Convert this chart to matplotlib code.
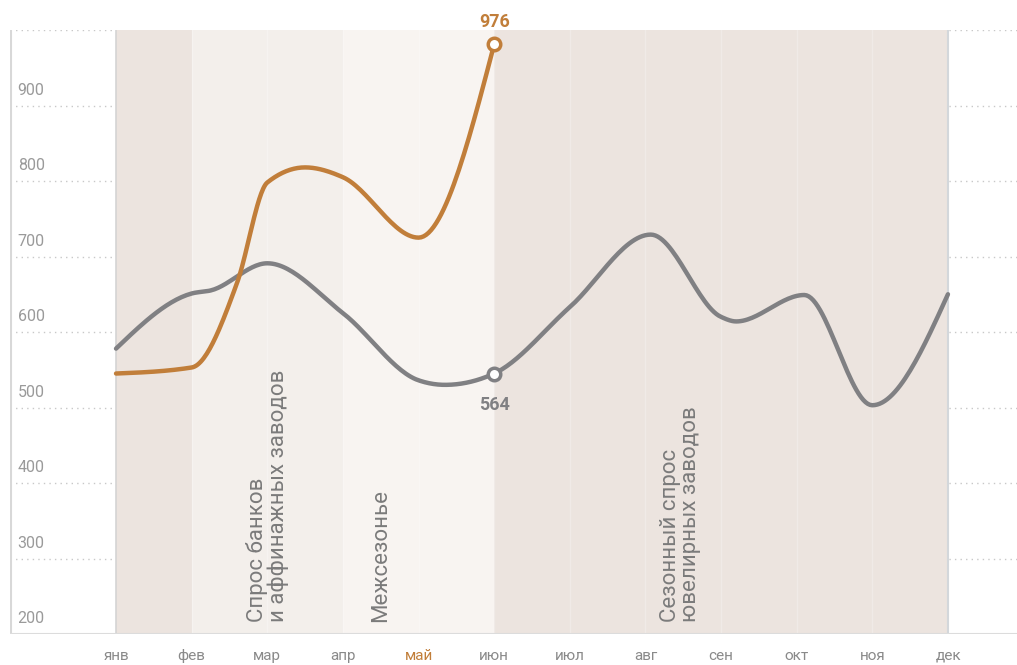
import numpy as np
import matplotlib
matplotlib.use('Agg')
import matplotlib.pyplot as plt

plt.rcParams['font.family'] = ['Roboto', 'DejaVu Sans']

# данные (позиция в месяцах от янв = 0)
months = ['янв', 'фев', 'мар', 'апр', 'май', 'июн', 'июл', 'авг', 'сен', 'окт', 'ноя', 'дек']
gray_x = [0, 1, 1.25, 2, 3, 4, 4.35, 5, 6, 7.07, 8, 8.2, 9.1, 10, 11]
gray_y = [578, 651, 655, 691, 625, 536, 530, 545, 633, 729, 620, 614, 649, 503, 650]
orange_x = [0, 1, 1.6, 2, 2.5, 3, 4, 5]
orange_y = [545, 553, 665, 798, 818, 805, 725, 981]
point_labels = ['976', '564']
y_ticks = [200, 300, 400, 500, 600, 700, 800, 900]

orange = '#c17e3a'
gray = '#808083'
txt = '#8a8a8a'


def monotone(x, y, n=30):
    # монотонная кубическая интерполяция (как monotoneX) для отрисовки
    x = np.asarray(x, float)
    y = np.asarray(y, float)
    h = np.diff(x)
    s = np.diff(y) / h
    t = np.zeros(len(x))
    for i in range(1, len(x) - 1):
        p = (s[i - 1] * h[i] + s[i] * h[i - 1]) / (h[i - 1] + h[i])
        t[i] = (np.sign(s[i - 1]) + np.sign(s[i])) * min(abs(s[i - 1]), abs(s[i]), 0.5 * abs(p))
    t[0] = (3 * s[0] - t[1]) / 2 if len(x) > 2 else s[0]
    t[-1] = (3 * s[-1] - t[-2]) / 2 if len(x) > 2 else s[-1]
    xs, ys = [], []
    for i in range(len(x) - 1):
        u = np.linspace(0, 1, n, endpoint=False)
        h00 = (1 + 2 * u) * (1 - u) ** 2
        h10 = u * (1 - u) ** 2
        h01 = u ** 2 * (3 - 2 * u)
        h11 = u ** 2 * (u - 1)
        xs.append(x[i] + u * h[i])
        ys.append(h00 * y[i] + h10 * h[i] * t[i] + h01 * y[i + 1] + h11 * h[i] * t[i + 1])
    xs.append([x[-1]])
    ys.append([y[-1]])
    return np.concatenate(xs), np.concatenate(ys)


fig = plt.figure(figsize=(10.17, 6.65), dpi=100)
ax = fig.add_axes([10 / 1017, 31 / 665, 1007 / 1017, 604 / 665])
ax.set_xlim(-1.402, 11.913)
ax.set_ylim(200, 1000)
for s in ax.spines.values():
    s.set_visible(False)
ax.set_xticks([])
ax.set_yticks([])

# сетка
for v in y_ticks + [1000]:
    ax.axhline(v, color='#c8c8c8', lw=1, ls=(0, (1, 3)), zorder=0)
    if v in y_ticks:
        ax.text(-1.3, v + 10, str(v), color='#9a9a9a', fontsize=11.5, ha='left', va='bottom')

# фоновые полосы
ax.axvspan(0, 1, color='#ece4df', lw=0, zorder=1)
ax.axvspan(1, 3, color='#f3efeb', lw=0, zorder=1)
ax.axvspan(3, 5, color='#f8f4f1', lw=0, zorder=1)
ax.axvspan(5, 11, color='#ece4df', lw=0, zorder=1)
for i in range(1, 11):
    ax.axvline(i, color='white', lw=1, alpha=0.25, zorder=1.5)
ax.axvline(0, color='#d4d4d4', lw=1.2, zorder=2)
ax.axvline(11, color='#d3d7db', lw=1.5, zorder=2)
ax.axvline(-1.402 + 0.01, color='#d8d8d8', lw=1.5, zorder=2)
ax.axhline(200, color='#dcdcdc', lw=1.5, zorder=2)

# подписи периодов
ax.text(2, 216, 'Спрос банков\nи аффинажных заводов', rotation=90, ha='center', va='bottom',
        multialignment='left', color='#7b7b7b', fontsize=16, linespacing=0.95, zorder=3)
ax.text(3.5, 216, 'Межсезонье', rotation=90, ha='center', va='bottom',
        color='#7b7b7b', fontsize=16, zorder=3)
ax.text(7.46, 216, 'Сезонный спрос\nювелирных заводов', rotation=90, ha='center', va='bottom',
        multialignment='left', color='#7b7b7b', fontsize=16, linespacing=0.95, zorder=3)

# линии
gx, gy = monotone(gray_x, gray_y)
ax.plot(gx, gy, color=gray, lw=3.2, solid_capstyle='round', zorder=4)
ox, oy = monotone(orange_x, orange_y)
ax.plot(ox, oy, color=orange, lw=3.2, solid_capstyle='round', zorder=5)

gi = gray_x.index(5)
ax.plot(5, gray_y[gi], 'o', ms=9, mfc='white', mec=gray, mew=2.5, zorder=6)
ax.plot(orange_x[-1], orange_y[-1], 'o', ms=9, mfc='white', mec=orange, mew=2.5, zorder=6)
ax.text(orange_x[-1], orange_y[-1] + 18, point_labels[0], color=orange, fontsize=13,
        fontweight='semibold', ha='center', va='bottom', zorder=6)
ax.text(5, gray_y[gi] - 30, point_labels[1], color=gray, fontsize=13,
        fontweight='semibold', ha='center', va='top', zorder=6)

# месяцы
for i, m in enumerate(months):
    ax.text(i, 171, m, color=orange if m == 'май' else txt, fontsize=11,
            ha='center', va='center', clip_on=False)

fig.savefig('out.png', dpi=100)
